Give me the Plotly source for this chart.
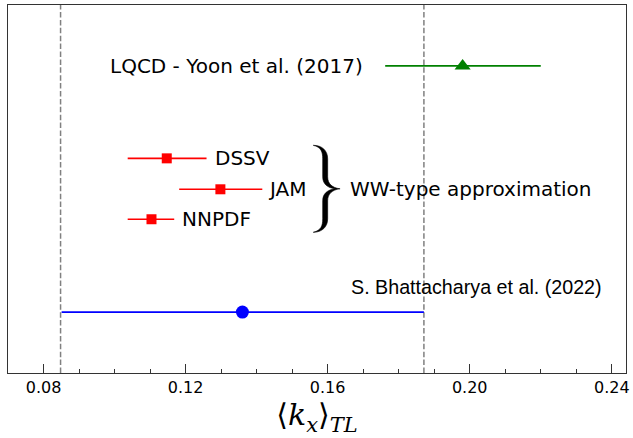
import plotly.graph_objects as go

# ---- data ----
labels = ["LQCD - Yoon et al. (2017)", "DSSV", "JAM", "NNPDF", "S. Bhattacharya et al. (2022)"]
kx_center = [0.198, 0.1147, 0.1298, 0.1104, 0.136]
kx_low = [0.1762, 0.1037, 0.1182, 0.1037, 0.0851]
kx_high = [0.2200, 0.1259, 0.1416, 0.1168, 0.1871]
row_y = [0.8345, 0.5833, 0.4992, 0.4178, 0.1655]
band_edges = [0.0848, 0.1871]
x_ticks = [0.08, 0.12, 0.16, 0.20, 0.24]
x_tick_text = ["0.08", "0.12", "0.16", "0.20", "0.24"]

X_RANGE = [0.07, 0.244]
Y_RANGE = [0.0, 1.0]
W, H = 633, 438
ML, MR, MT, MB = 8, 3, 5, 65
PW, PH = W - ML - MR, H - MT - MB
px_x = (X_RANGE[1] - X_RANGE[0]) / PW
px_y = (Y_RANGE[1] - Y_RANGE[0]) / PH

fig = go.Figure()

def add_point(i, color, symbol, size):
    fig.add_trace(go.Scatter(
        x=[kx_center[i]], y=[row_y[i]], mode="markers",
        marker=dict(color=color, symbol=symbol, size=size, line=dict(width=0)),
        error_x=dict(type="data", symmetric=False,
                     array=[kx_high[i] - kx_center[i]],
                     arrayminus=[kx_center[i] - kx_low[i]],
                     color=color, thickness=1.6, width=0),
        showlegend=False, hoverinfo="skip"))

add_point(0, "#008000", "triangle-up", 14)
add_point(1, "#ff0000", "square", 10)
add_point(2, "#ff0000", "square", 10)
add_point(3, "#ff0000", "square", 10)
add_point(4, "#0000ff", "circle", 13)

for xv in band_edges:
    fig.add_shape(type="line", xref="x", yref="paper", x0=xv, x1=xv, y0=0, y1=1,
                  line=dict(color="#808080", width=1.5, dash="5.5px,2.4px"), layer="below")

txt_font = dict(family="DejaVu Sans", size=20, color="black")
# LQCD label to the left of its bar
fig.add_annotation(x=kx_low[0], y=row_y[0], text=labels[0], showarrow=False,
                   xanchor="right", yanchor="middle", xshift=-20, font=txt_font)
for i, xs in zip([1, 2, 3], [6, 4, 6]):
    fig.add_annotation(x=kx_high[i], y=row_y[i], text=labels[i], showarrow=False,
                       xanchor="left", yanchor="middle", xshift=xs, font=txt_font)

# brace spanning the WW-type rows
mid_y = (row_y[1] + row_y[3]) / 2
tip_x = 0.1635
pts_outer = [(-27, -43.5), (-18, -43.5), (-12.5, -38), (-12.5, -30), (-12.5, -12), (-12.5, -5), (-8, -1), (0, 0),
             (-8, 1), (-12.5, 5), (-12.5, 12), (-12.5, 30), (-12.5, 38), (-18, 43.5), (-27, 43.5)]
pts_inner = [(-19, 41.5), (-17.5, 37), (-17.5, 30), (-17.5, 12), (-17.5, 5), (-13, 1), (-5, 0),
             (-13, -1), (-17.5, -5), (-17.5, -12), (-17.5, -30), (-17.5, -37), (-19, -41.5), (-27, -43.5)]

def P(p):
    return f"{tip_x + p[0]*px_x:.6f},{mid_y - p[1]*px_y:.6f}"

o = pts_outer
path = "M " + P(o[0])
path += " C " + " ".join(P(p) for p in o[1:4])
path += " L " + P(o[4])
path += " C " + " ".join(P(p) for p in o[5:8])
path += " C " + " ".join(P(p) for p in o[8:11])
path += " L " + P(o[11])
path += " C " + " ".join(P(p) for p in o[12:15])
n = pts_inner
path += " C " + " ".join(P(p) for p in n[0:3])
path += " L " + P(n[3])
path += " C " + " ".join(P(p) for p in n[4:7])
path += " C " + " ".join(P(p) for p in n[7:10])
path += " L " + P(n[10])
path += " C " + " ".join(P(p) for p in n[11:14])
path += " Z"
fig.add_shape(type="path", xref="x", yref="y", path=path,
              fillcolor="black", line=dict(color="black", width=0.6))

fig.add_annotation(x=0.1658, y=mid_y, text="WW-type approximation", showarrow=False,
                   xanchor="left", yanchor="middle", font=txt_font)
fig.add_annotation(x=0.166, y=row_y[4], text=labels[4], showarrow=False,
                   xanchor="left", yanchor="middle", yshift=25,
                   font=dict(family="Liberation Sans, Arial", size=19.7, color="black"))

fig.update_layout(
    width=W, height=H, margin=dict(l=ML, r=MR, t=MT, b=MB),
    paper_bgcolor="white", plot_bgcolor="white",
    xaxis=dict(range=X_RANGE, showgrid=False, zeroline=False,
               tickvals=x_ticks, ticktext=x_tick_text, ticks="inside", ticklen=9,
               tickwidth=1, tickcolor="#333", showline=True, linecolor="#333", linewidth=1,
               mirror=True, ticklabeloverflow="allow",
               minor=dict(dtick=0.01, tick0=0.07, ticks="inside", ticklen=4.5, tickwidth=1, tickcolor="#333"),
               tickfont=dict(family="DejaVu Sans", size=16, color="black"),
               title=dict(text="⟨<i>k</i><sub><i>x</i></sub>⟩<sub><i>TL</i></sub>",
                          font=dict(family="DejaVu Serif", size=30, color="black"), standoff=5)),
    yaxis=dict(range=Y_RANGE, showgrid=False, zeroline=False, showticklabels=False,
               ticks="", showline=True, linecolor="#333", linewidth=1, mirror=True),
)

fig.write_html("out.html", config={"displayModeBar": False},
               post_script="document.body.style.margin='0';document.body.style.overflow='hidden';")
